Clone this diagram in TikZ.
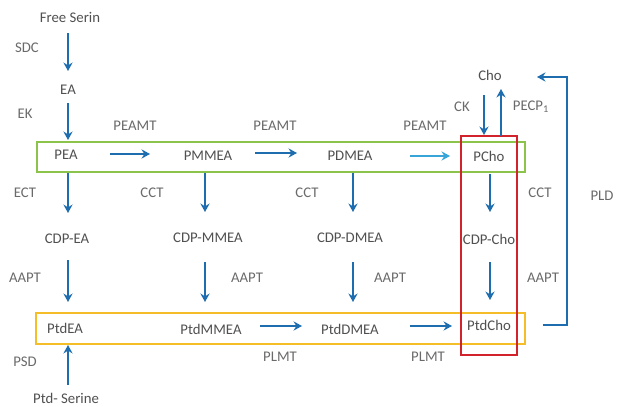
\documentclass[tikz,border=0pt]{standalone}
\usepackage{fontspec}
\setmainfont{Carlito}
\usepackage{tikz}
\usetikzlibrary{arrows.meta, calc}

\definecolor{pfeilblau}{RGB}{30,110,175}
\definecolor{hellblau}{RGB}{55,165,215}
\definecolor{rahmengruen}{RGB}{140,195,75}
\definecolor{rahmengelb}{RGB}{245,190,40}
\definecolor{rahmenrot}{RGB}{210,35,45}
\definecolor{textgrau}{RGB}{80,80,80}

\tikzset{
  stoff/.style={text=textgrau, font=\fontsize{10.5}{12}\selectfont, inner sep=1pt},
  enzym/.style={text=textgrau!85, font=\fontsize{10.5}{12}\selectfont, inner sep=1pt},
  pfeil/.style={draw=pfeilblau, line width=1.4pt, -{Stealth[length=6pt,width=6.5pt,inset=2pt]}},
  rahmen/.style={line width=1.4pt}
}

\begin{document}
\begin{tikzpicture}[x=0.025cm, y=-0.025cm]
			\useasboundingbox (0,0) rectangle (627,407);
			
			% Rahmen
			\draw[rahmen, rahmengruen] (37,142) rectangle (525,172);
			\draw[rahmen, rahmengelb] (36,313) rectangle (525,344);
			\draw[rahmen, rahmenrot] (461,136) rectangle (517,355);
			
			% Stoffe
			\node[stoff] (free) at (70,17) {Free Serin};
			\node[stoff] (ea) at (68,90) {EA};
			\node[stoff] (pea) at (66,155) {PEA};
			\node[stoff] (pmmea) at (208,156) {PMMEA};
			\node[stoff] (pdmea) at (350,156) {PDMEA};
			\node[stoff] (pcho) at (489,156) {PCho};
			\node[stoff] (cho) at (490,75) {Cho};
			\node[stoff] (cdpea) at (67,239) {CDP-EA};
			\node[stoff] (cdpmmea) at (208,238) {CDP-MMEA};
			\node[stoff] (cdpdmea) at (350,238) {CDP-DMEA};
			\node[stoff] (cdpcho) at (489,239) {CDP-Cho};
			\node[stoff] (ptdea) at (65,328) {PtdEA};
			\node[stoff] (ptdmmea) at (211,329) {PtdMMEA};
			\node[stoff] (ptddmea) at (350,329) {PtdDMEA};
			\node[stoff] (ptdcho) at (489,325) {PtdCho};
			\node[stoff] (ptdser) at (66,398) {Ptd- Serine};
			
			% Enzyme
			\node[enzym] (sdc) at (27,48) {SDC};
			\node[enzym] (ek) at (25,114) {EK};
			\node[enzym] (peamta) at (135,126) {PEAMT};
			\node[enzym] (peamtb) at (275,126) {PEAMT};
			\node[enzym] (peamtc) at (425,126) {PEAMT};
			\node[enzym] (ect) at (25,193) {ECT};
			\node[enzym] (ccta) at (152,193) {CCT};
			\node[enzym] (cctb) at (307,193) {CCT};
			\node[enzym] (cctc) at (540,193) {CCT};
			\node[enzym] (aapta) at (25,278) {AAPT};
			\node[enzym] (aaptb) at (247,278) {AAPT};
			\node[enzym] (aaptc) at (390,278) {AAPT};
			\node[enzym] (aaptd) at (543,278) {AAPT};
			\node[enzym] (psd) at (25,362) {PSD};
			\node[enzym] (plmta) at (280,357) {PLMT};
			\node[enzym] (plmtb) at (428,357) {PLMT};
			\node[enzym] (ck) at (462,107) {CK};
			\node[enzym] (pecp) at (531,107) {PECP\textsubscript{1}};
			\node[enzym] (pld) at (602,196) {PLD};
			
			% Pfeile Spalte 1
			\draw[pfeil] ($(free)+(-2,16)$) -- ($(ea)+(0,-19)$);
			\draw[pfeil] ($(ea)+(0,13)$) -- ($(pea)+(2,-15)$);
			\draw[pfeil] ($(pea)+(2,18)$) -- ($(cdpea)+(1,-26)$);
			\draw[pfeil] ($(cdpea)+(1,21)$) -- ($(ptdea)+(3,-26)$);
			\draw[pfeil] ($(ptdser)+(2,-13)$) -- ($(ptdea)+(3,17)$);
			
			% Pfeile Spalten 2 bis 4
			\draw[pfeil] ($(pmmea)+(-3,17)$) -- ($(cdpmmea)+(-3,-26)$);
			\draw[pfeil] ($(cdpmmea)+(-3,24)$) -- ($(ptdmmea)+(-6,-27)$);
			\draw[pfeil] ($(pdmea)+(3,17)$) -- ($(cdpdmea)+(3,-26)$);
			\draw[pfeil] ($(cdpdmea)+(3,24)$) -- ($(ptddmea)+(3,-27)$);
			\draw[pfeil] ($(pcho)+(1,18)$) -- ($(cdpcho)+(1,-27)$);
			\draw[pfeil] ($(cdpcho)+(1,23)$) -- ($(ptdcho)+(1,-25)$);
			
			% Pfeile waagerecht
			\draw[pfeil] ($(pea)+(44,-1)$) -- ($(pmmea)+(-58,-2)$);
			\draw[pfeil] ($(pmmea)+(47,-3)$) -- ($(pdmea)+(-53,-3)$);
			\draw[pfeil, draw=hellblau] ($(pdmea)+(60,0)$) -- ($(pcho)+(-39,0)$);
			\draw[pfeil] ($(ptdmmea)+(49,-3)$) -- ($(ptddmea)+(-48,-3)$);
			\draw[pfeil] ($(ptddmea)+(60,-3)$) -- ($(ptdcho)+(-37,1)$);
			
			% Cholin
			\draw[pfeil] ($(cho)+(-6,20)$) -- ($(pcho)+(-5,-21)$);
			\draw[pfeil] ($(pcho)+(12,-20)$) -- ($(cho)+(11,14)$);
			\draw[pfeil] ($(ptdcho)+(54,0)$) -- ($(ptdcho)+(78,0)$) |- ($(cho)+(47,2)$);
		\end{tikzpicture}
\end{document}
